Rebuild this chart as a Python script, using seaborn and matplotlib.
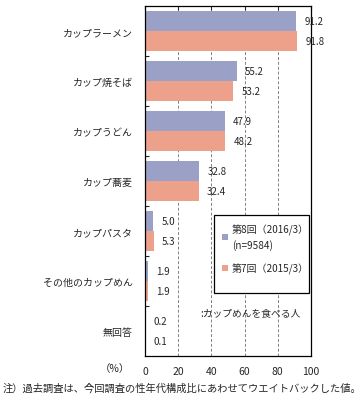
import matplotlib
matplotlib.use('Agg')
import matplotlib.pyplot as plt
from matplotlib.patches import Rectangle
import pandas as pd
import seaborn as sns

categories = ['カップラーメン', 'カップ焼そば', 'カップうどん', 'カップ蕎麦',
              'カップパスタ', 'その他のカップめん', '無回答']
series = ['第8回（2016/3）\n(n=9584)', '第7回（2015/3）']
vals_8 = [91.2, 55.2, 47.9, 32.8, 5.0, 1.9, 0.2]
vals_7 = [91.8, 53.2, 48.2, 32.4, 5.3, 1.9, 0.1]
colors = ['#9AA0C6', '#EDA08A']

sns.set_style('white')
plt.rcParams['font.family'] = ['Noto Sans CJK JP', 'DejaVu Sans']

df = pd.DataFrame({
    'cat': categories * 2,
    'val': vals_8 + vals_7,
    'ser': [series[0]] * len(categories) + [series[1]] * len(categories),
})

fig = plt.figure(figsize=(3.62, 4.14), dpi=100)
ax = fig.add_axes([145 / 362, 57 / 414, 166 / 362, 350 / 414])
sns.barplot(data=df, x='val', y='cat', hue='ser', orient='h', palette=colors,
            width=0.8, saturation=1, ax=ax, linewidth=0)

for cont in ax.containers:
    ax.bar_label(cont, fmt='%.1f', padding=6, fontsize=7)

ax.set_xlim(0, 100)
ax.set_ylim(len(categories) - 0.5, -0.5)
ax.set_xticks([0, 20, 40, 60, 80, 100])
ax.xaxis.grid(True, color='#808080', linestyle=(0, (3, 2)), linewidth=0.7)
ax.set_axisbelow(True)
ax.tick_params(axis='x', top=True, bottom=False, direction='in', length=3,
               labelsize=7.5, pad=7, width=0.8)
ax.set_yticks(range(len(categories)))
ax.set_yticklabels(categories)
ax.set_yticks([k + 0.5 for k in range(len(categories) - 1)], minor=True)
ax.tick_params(axis='y', which='major', length=0, labelsize=7.2, pad=9)
ax.tick_params(axis='y', which='minor', left=True, direction='in', length=3, width=0.8)
ax.set_xlabel('')
ax.set_ylabel('')
for sp in ax.spines.values():
    sp.set_color('black')
    sp.set_linewidth(0.9)

handles, labels = ax.get_legend_handles_labels()
ax.legend_.remove()
leg = ax.legend(handles, labels, loc='upper left', bbox_to_anchor=(222 / 362, 1 - 225 / 414),
                bbox_transform=fig.transFigure, fontsize=7.2, frameon=False,
                handlelength=0.6, handleheight=0.6, handletextpad=0.4,
                labelspacing=1.3, borderpad=0, borderaxespad=0)
leg.set_zorder(6)
for t in leg.get_texts():
    t.set_multialignment('left')
    t.set_linespacing(1.4)
ax.add_patch(Rectangle((214 / 362, 1 - 294 / 414), 95 / 362, 78 / 414,
                       transform=fig.transFigure, facecolor='white', edgecolor='black',
                       linewidth=0.9, zorder=5, clip_on=False))

fig.text(200 / 362, 1 - 313 / 414, ':カップめんを食べる人', fontsize=7, va='center', ha='left')
fig.text(100 / 362, 1 - 369 / 414, '（%）', fontsize=7.5, va='center', ha='left')
fig.text(3 / 362, 1 - 389 / 414, '注）過去調査は、今回調査の性年代構成比にあわせてウエイトバックした値。',
         fontsize=7.4, va='center', ha='left')

fig.savefig('out.png', dpi=100)
